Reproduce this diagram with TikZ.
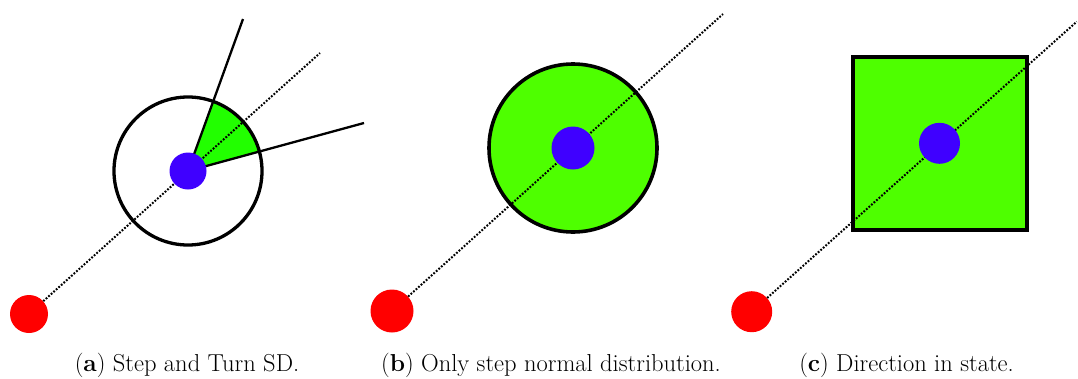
\documentclass[tikz,border=0pt]{standalone}
\definecolor{dotred}{HTML}{FF0000}
\definecolor{dotblue}{HTML}{3F00FF}
\definecolor{wedgegreen}{HTML}{22FF00}
\definecolor{areagreen}{HTML}{4EFF00}
\begin{document}
\begin{tikzpicture}[x=1pt,y=-1pt,
  reddot/.style={circle,fill=dotred,inner sep=0pt,minimum size=#1},
  bluedot/.style={circle,fill=dotblue,inner sep=0pt,minimum size=#1},
  dotline/.style={line width=2pt,dash pattern=on 1.8pt off 1.6pt},
  spoke/.style={line width=2.3pt},
  outline/.style={line width=3.6pt},
  caption/.style={anchor=base,inner sep=0pt,font=\fontsize{24.5}{28}\selectfont}]
\useasboundingbox (0,0) rectangle (1078,378);

% ---------- panel (a)
\coordinate (ca) at (188,171);
\coordinate (ea) at (320,53);
\coordinate (sa1) at (243,19);
\coordinate (sa2) at (364,123);
\fill[wedgegreen] (ca) -- ++(-15.3:74) arc[start angle=-15.3,end angle=-70.1,radius=74] -- cycle;
\draw[outline,line width=3.3pt] (ca) circle[radius=74];
\draw[spoke] (ca) -- (sa1);
\draw[spoke] (ca) -- (sa2);
\node[reddot=38pt] (ra) at (29,314) {};
\draw[dotline] (ra) -- (ea);
\node[bluedot=37pt] (ba) at (ca) {};
\node[caption] (capa) at (187,371.7) {(\textbf{a}) Step and Turn SD.};

% ---------- panel (b)
\coordinate (cb) at (573,148);
\coordinate (eb) at (723,14);
\filldraw[fill=areagreen,draw=black,outline] (cb) circle[radius=84];
\node[reddot=43pt] (rb) at (392,311) {};
\draw[dotline] (rb) -- (eb);
\node[bluedot=43pt] (bb) at (cb) {};
\node[caption] (capb) at (551,371.7) {(\textbf{b}) Only step normal distribution.};

% ---------- panel (c)
\coordinate (cc) at (939.5,143.3);
\coordinate (ec) at (1076.7,21.7);
\filldraw[fill=areagreen,draw=black,outline] (852.7,56.7) rectangle (1026.7,230);
\node[reddot=41pt] (rc) at (751.7,311.7) {};
\draw[dotline] (rc) -- (ec);
\node[bluedot=41pt] (bc) at (cc) {};
\node[caption] (capc) at (906.5,371.7) {(\textbf{c}) Direction in state.};
\end{tikzpicture}
\end{document}
